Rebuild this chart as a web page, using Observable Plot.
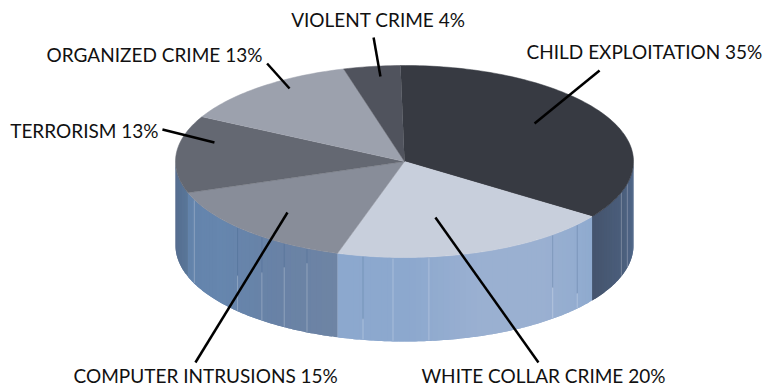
<!DOCTYPE html>
<html>
<head>
<meta charset="utf-8">
<style>
  html, body { margin: 0; padding: 0; background: #fff; }
  svg { display: block; }
</style>
<script src="https://cdn.jsdelivr.net/npm/d3@7"></script>
<script src="https://cdn.jsdelivr.net/npm/@observablehq/plot@0.6"></script>
</head>
<body>
<div id="chart"></div>
<script>
// Share of cases by crime category, clockwise from twelve o'clock.
const categories = ["CHILD EXPLOITATION", "WHITE COLLAR CRIME", "COMPUTER INTRUSIONS", "TERRORISM", "ORGANIZED CRIME", "VIOLENT CRIME"];
const shares = [35, 20, 15, 13, 13, 4];

// Slice styling, one entry per category.
const topColors = ["#373A42", "#C8CFDC", "#888D99", "#646872", "#9CA1AD", "#50535D"];
const wallColors = [
  ["#526A8C", "#4B5F7D", "#45546D"],
  ["#8FAACF", "#9AB0D1", "#9AB0D1", "#8CA8CE", "#8CA8CE"],
  ["#6E84A4", "#6882A6", "#6686AE", "#6383AB"],
  ["#597699", "#53698A"],
  [],
  []
];

// Panel joints on the drum wall: position in percent round the pie, and the
// fraction of wall height at which the joint turns from dark to light.
const wallJointShares = [28.7, 30.2, 36.4, 38.8, 48.3, 50.8, 52.9, 57, 58.8, 60.7, 63, 68.5];
const wallJointSplits = [0, 0, 0.82, 0.63, 0, 0, 0.75, 0.18, 0.29, 0.43, 0.58, 0];

// Callout layout in pie units: text start, leader outer end, leader inner end.
const callouts = [
  {text: [0.533, 1.063], outer: [0.852, 0.948], inner: [0.568, 0.396]},
  {text: [0.074, -2.31], outer: [0.585, -2.094], inner: [0.135, -0.583]},
  {text: [-1.445, -2.31], outer: [-0.913, -2.094], inner: [-0.511, -0.531]},
  {text: [-1.722, 0.25], outer: [-1.057, 0.333], inner: [-0.83, 0.198]},
  {text: [-1.563, 1.04], outer: [-0.6, 1.021], inner: [-0.502, 0.76]},
  {text: [-0.495, 1.406], outer: [-0.135, 1.292], inner: [-0.105, 0.885]}
];

const depth = 0.875;    // drum height relative to the vertical radius
const turn = -1;        // rotation of the slices, in degrees

const toAngle = (pct) => (pct * 3.6 + turn) * Math.PI / 180;
const rim = (a, drop = 0) => ({x: Math.sin(a), y: Math.cos(a) - drop});

// Cumulative slice bounds derived from the shares.
const total = d3.sum(shares);
const ends = d3.cumsum(shares).map((v) => v / total * 100);
const slices = categories.map((name, i) => ({
  name, share: shares[i], start: i ? ends[i - 1] : 0, end: ends[i], top: topColors[i], wall: wallColors[i]
}));

// Top surface: each slice is a fan from the hub along the rim.
const topRows = slices.flatMap((s) => {
  const n = Math.ceil(s.share * 3);
  const arc = d3.range(n + 1).map((k) => rim(toAngle(s.start + (s.end - s.start) * k / n)));
  return [{x: 0, y: 0}, ...arc].map((p) => ({...p, id: s.name, color: s.top}));
});

// Drum wall: strips over the forward-facing half of the rim, shaded along each
// slice. Every strip runs on under the next one so no hairline shows between them.
const frontStart = 90, frontEnd = 270;
const wallRows = slices.flatMap((s) => {
  if (!s.wall.length) return [];
  const from = Math.max(toAngle(s.start), frontStart * Math.PI / 180);
  const to = Math.min(toAngle(s.end), frontEnd * Math.PI / 180);
  const ramp = d3.piecewise(d3.interpolateLab, s.wall);
  const n = Math.max(2, Math.ceil((to - from) * 40));
  return d3.range(n).flatMap((k) => {
    const a0 = from + (to - from) * k / n;
    const a1 = Math.min(to, from + (to - from) * (k + 2) / n);
    const color = d3.rgb(ramp((k + 0.5) / n)).formatHex();
    const span = d3.range(5).map((j) => a0 + (a1 - a0) * j / 4);
    return [...span.map((a) => rim(a)), ...span.reverse().map((a) => rim(a, depth))]
      .map((p) => ({...p, id: `${s.name}-${k}`, color}));
  });
});

// Panel joints, each as a darker upper run and a lighter lower run.
const jointRows = wallJointShares.flatMap((pct, i) => {
  const a = pct * 3.6 * Math.PI / 180;
  const split = wallJointSplits[i];
  return [
    {id: `d${i}`, ...rim(a, 0.01), tone: "dark"},
    {id: `d${i}`, ...rim(a, depth * split), tone: "dark"},
    {id: `l${i}`, ...rim(a, depth * split), tone: "light"},
    {id: `l${i}`, ...rim(a, depth - 0.01), tone: "light"}
  ];
});

const leaderRows = callouts.flatMap((c, i) => [
  {id: i, x: c.outer[0], y: c.outer[1]},
  {id: i, x: c.inner[0], y: c.inner[1]}
]);
const labelRows = callouts.map((c, i) => ({
  x: c.text[0], y: c.text[1], label: `${categories[i]} ${shares[i]}%`
}));

const chart = Plot.plot({
  width: 765,
  height: 388,
  margin: 0,
  style: {background: "#fff"},
  x: {domain: [-404 / 229, 361 / 229], range: [0, 765], axis: null},
  y: {domain: [-227 / 96, 161 / 96], range: [388, 0], axis: null},
  color: {type: "identity"},
  marks: [
    Plot.line(wallRows, {x: "x", y: "y", z: "id", fill: "color"}),
    Plot.line(jointRows.filter((d) => d.tone === "dark"), {x: "x", y: "y", z: "id", stroke: "#3E5C86", strokeOpacity: 0.28, strokeWidth: 1}),
    Plot.line(jointRows.filter((d) => d.tone === "light"), {x: "x", y: "y", z: "id", stroke: "#FFFFFF", strokeOpacity: 0.25, strokeWidth: 1}),
    Plot.line(topRows, {x: "x", y: "y", z: "id", fill: "color", stroke: "color", strokeWidth: 0.5}),
    Plot.line(leaderRows, {x: "x", y: "y", z: "id", stroke: "#000", strokeWidth: 2.5, strokeLinecap: "butt"}),
    Plot.text(labelRows, {
      x: "x", y: "y", text: "label", textAnchor: "start", lineAnchor: "bottom",
      fill: "#111", fontFamily: "Lato", fontSize: 19
    })
  ]
});
document.getElementById("chart").append(chart);
</script>
</body>
</html>
